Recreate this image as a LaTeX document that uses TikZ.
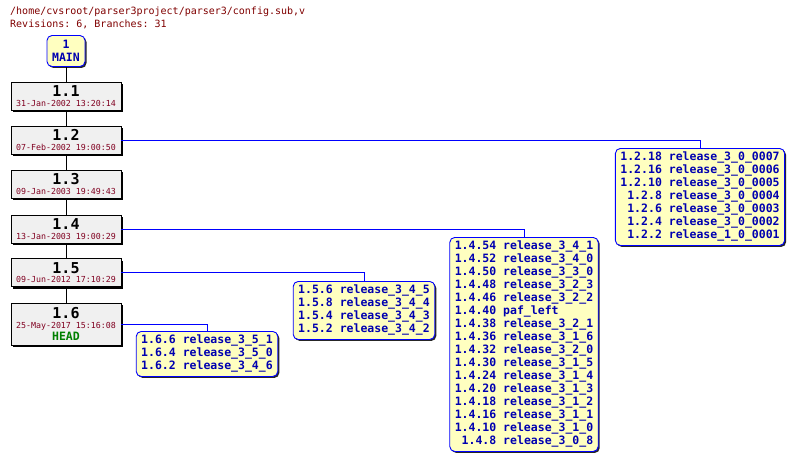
\documentclass[tikz,border=0pt]{standalone}
\usepackage{fontspec}
\setmonofont{DejaVu Sans Mono}
\usetikzlibrary{shadows}

\definecolor{pathred}{HTML}{800000}
\definecolor{datered}{HTML}{800020}
\definecolor{tagblue}{HTML}{0000B0}
\definecolor{linkblue}{HTML}{0000FF}
\definecolor{headgreen}{HTML}{008000}
\definecolor{tagfill}{HTML}{FFFFC0}
\definecolor{revfill}{HTML}{F0F0F0}

\newcommand{\revnum}[1]{{\fontsize{15}{15}\selectfont\bfseries #1}}
\newcommand{\revdate}[1]{{\color{datered}#1}}

\tikzset{
  revbox/.style={draw=black, fill=revfill, line width=0.9pt, minimum width=110pt, minimum height=28pt,
    inner sep=0pt, align=center, drop shadow={shadow xshift=2pt, shadow yshift=-2pt, fill=black, opacity=1},
    font=\ttfamily\fontsize{8.3}{9.5}\selectfont},
  tagbox/.style={draw=linkblue, fill=tagfill, line width=0.9pt, rounded corners=5pt, inner xsep=5pt, inner ysep=3pt,
    drop shadow={shadow xshift=1.5pt, shadow yshift=-1.5pt, fill=black!85, opacity=1},
    text=tagblue, font=\ttfamily\bfseries\fontsize{11.5}{13}\selectfont},
  trunk/.style={draw=black, line width=0.8pt},
  branch/.style={draw=linkblue, line width=0.8pt},
  headline/.style={anchor=base west, inner sep=0pt, text=pathred, font=\ttfamily\fontsize{10}{12}\selectfont}
}

\begin{document}
\begin{tikzpicture}[x=1pt, y=-1pt]

% background and size
\fill[white] (0,0) rectangle (795,460);

% ==================== HEADER ====================
\node[headline] (path) at (10,15) {/home/cvsroot/parser3project/parser3/config.sub,v};
\node[headline] (revs) at (10,28) {Revisions: 6, Branches: 31};

% ==================== TRUNK ====================
% Branch start
\node[tagbox, align=center, minimum width=38pt, minimum height=31pt, inner sep=0pt] (main) at (66,51) {1\\MAIN};

% Revisions
\node[revbox] (r11) at (66,96) {\revnum{1.1}\\\revdate{31-Jan-2002 13:20:14}};
\node[revbox] (r12) at (66,140) {\revnum{1.2}\\\revdate{07-Feb-2002 19:00:50}};
\node[revbox] (r13) at (66,184) {\revnum{1.3}\\\revdate{09-Jan-2003 19:49:43}};
\node[revbox] (r14) at (66,229) {\revnum{1.4}\\\revdate{13-Jan-2003 19:00:29}};
\node[revbox] (r15) at (66,272.5) {\revnum{1.5}\\\revdate{09-Jun-2012 17:10:29}};
\node[revbox, minimum height=42pt] (r16) at (66,324) {\revnum{1.6}\\\revdate{25-May-2017 15:16:08}\\[1.5pt]
  {\fontsize{11.5}{13}\selectfont\bfseries\color{headgreen}HEAD}};

% Trunk links
\draw[trunk] (main) -- (r11);
\draw[trunk] (r11) -- (r12);
\draw[trunk] (r12) -- (r13);
\draw[trunk] (r13) -- (r14);
\draw[trunk] (r14) -- (r15);
\draw[trunk] (r15) -- (r16);

% ==================== BRANCHES ====================
% Branches off 1.2
\node[tagbox, anchor=north] (t12) at (700,148) {\begin{tabular}{@{}r@{\ }l@{}}
  1.2.18 & release\_3\_0\_0007\\
  1.2.16 & release\_3\_0\_0006\\
  1.2.10 & release\_3\_0\_0005\\
  1.2.8 & release\_3\_0\_0004\\
  1.2.6 & release\_3\_0\_0003\\
  1.2.4 & release\_3\_0\_0002\\
  1.2.2 & release\_1\_0\_0001
\end{tabular}};

% Branches off 1.4
\node[tagbox, anchor=north] (t14) at (524,237) {\begin{tabular}{@{}r@{\ }l@{}}
  1.4.54 & release\_3\_4\_1\\
  1.4.52 & release\_3\_4\_0\\
  1.4.50 & release\_3\_3\_0\\
  1.4.48 & release\_3\_2\_3\\
  1.4.46 & release\_3\_2\_2\\
  1.4.40 & paf\_left\\
  1.4.38 & release\_3\_2\_1\\
  1.4.36 & release\_3\_1\_6\\
  1.4.32 & release\_3\_2\_0\\
  1.4.30 & release\_3\_1\_5\\
  1.4.24 & release\_3\_1\_4\\
  1.4.20 & release\_3\_1\_3\\
  1.4.18 & release\_3\_1\_2\\
  1.4.16 & release\_3\_1\_1\\
  1.4.10 & release\_3\_1\_0\\
  1.4.8 & release\_3\_0\_8
\end{tabular}};

% Branches off 1.5
\node[tagbox, anchor=north] (t15) at (364,281) {\begin{tabular}{@{}r@{\ }l@{}}
  1.5.6 & release\_3\_4\_5\\
  1.5.8 & release\_3\_4\_4\\
  1.5.4 & release\_3\_4\_3\\
  1.5.2 & release\_3\_4\_2
\end{tabular}};

% Branches off 1.6
\node[tagbox, anchor=north] (t16) at (207,331) {\begin{tabular}{@{}r@{\ }l@{}}
  1.6.6 & release\_3\_5\_1\\
  1.6.4 & release\_3\_5\_0\\
  1.6.2 & release\_3\_4\_6
\end{tabular}};

% Branch links
\draw[branch] (r12.east) -| (t12.north);
\draw[branch] (r14.east) -| (t14.north);
\draw[branch] (r15.east) -| (t15.north);
\draw[branch] (r16.east) -| (t16.north);

\end{tikzpicture}
\end{document}
